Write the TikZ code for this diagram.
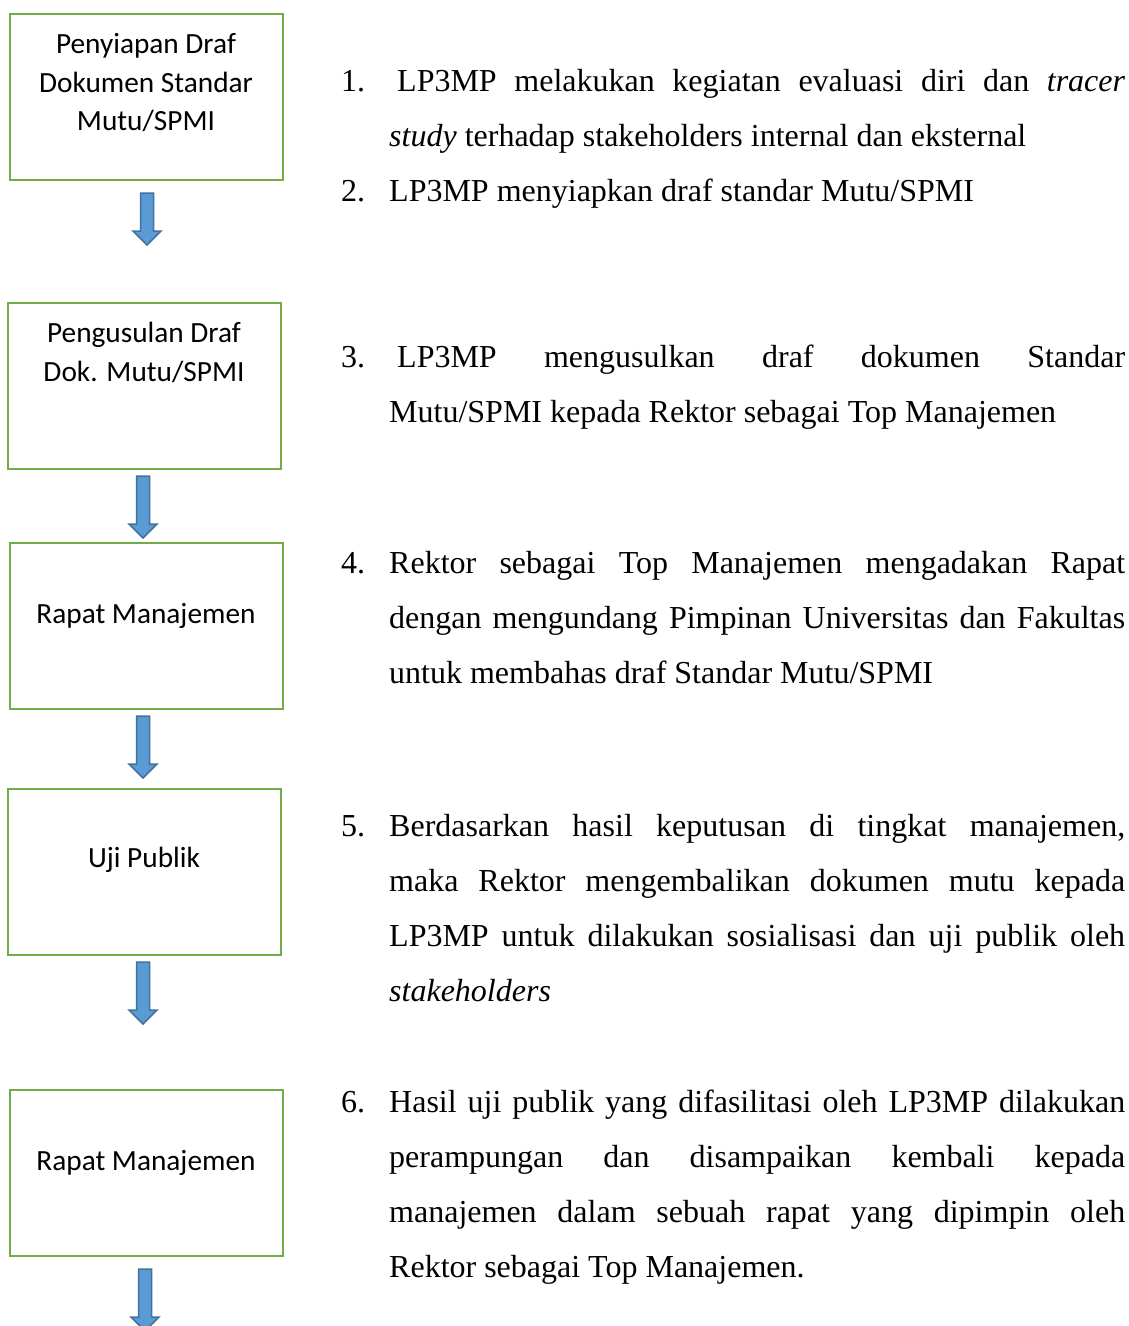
\documentclass[tikz,border=0pt]{standalone}
\usepackage{fontspec}
\setmainfont{Liberation Serif}
\newfontfamily\boxfont{Carlito}
\usetikzlibrary{calc}
\definecolor{boxgreen}{HTML}{70AD47}
\definecolor{arrowfill}{HTML}{5B9BD5}
\definecolor{arrowline}{HTML}{41719C}
\newcommand\ctrlines[1]{\vtop{\halign{\hfil##\hfil\cr#1\crcr}}}
\newcommand\numline[2]{\hbox{\hbox to 48pt{#1\hss}\hbox to 736pt{#2}}}
\newcommand\fullline[1]{\hbox{\hskip48pt\hbox to 736pt{#1}}}
\newcommand\lastline[1]{\hbox{\hskip48pt #1}}
\newcommand\blockarrow[2]{%
  \draw[barrow] ($(#1)+(-6.5,0)$) -- ($(#2)+(-6.5,-14)$) -- ($(#2)+(-14,-14)$) -- (#2)
    -- ($(#2)+(14,-14)$) -- ($(#2)+(6.5,-14)$) -- ($(#1)+(6.5,0)$) -- cycle;}
\begin{document}
\begin{tikzpicture}[x=1pt,y=-1pt,
  stepbox/.style={draw=boxgreen, line width=2.2pt, inner sep=0pt, outer sep=0pt, anchor=north west,
    minimum width=273pt, minimum height=166pt},
  boxtext/.style={font=\boxfont\fontsize{29.3}{38.5}\selectfont, anchor=base, inner sep=0pt},
  itemtext/.style={font=\fontsize{32}{55}\selectfont, anchor=base west, inner sep=0pt},
  barrow/.style={fill=arrowfill, draw=arrowline, line width=1.5pt, line join=miter}]
\useasboundingbox (0,0) rectangle (1128,1326);
\fill[white] (0,0) rectangle (1128,1326);

% boxes
\node[stepbox] (b1) at (10,14) {};
\node[stepbox] (b2) at (8,303) {};
\node[stepbox] (b3) at (10,543) {};
\node[stepbox] (b4) at (8,789) {};
\node[stepbox] (b5) at (10,1090) {};

% box texts
\node[boxtext] (l1) at (146,53.5) {\ctrlines{Penyiapan Draf\cr Dokumen Standar\cr Mutu/SPMI}};
\node[boxtext] (l2) at (144,342.5) {\ctrlines{Pengusulan Draf\cr Dok. Mutu/SPMI}};
\node[boxtext] (l3) at (146,623) {Rapat Manajemen};
\node[boxtext] (l4) at (144,867) {Uji Publik};
\node[boxtext] (l5) at (146,1170) {Rapat Manajemen};

% arrows
\coordinate (a1s) at (147,193);  \coordinate (a1e) at (147,245);
\coordinate (a2s) at (143,476);  \coordinate (a2e) at (143,538);
\coordinate (a3s) at (143,716);  \coordinate (a3e) at (143,778);
\coordinate (a4s) at (143,962);  \coordinate (a4e) at (143,1024);
\coordinate (a5s) at (145,1269); \coordinate (a5e) at (145,1331);
\blockarrow{a1s}{a1e}
\blockarrow{a2s}{a2e}
\blockarrow{a3s}{a3e}
\blockarrow{a4s}{a4e}
\blockarrow{a5s}{a5e}

% descriptions
\node[itemtext] (t1) at (341,91) {\vtop{%
  \numline{1.}{\hskip8pt LP3MP melakukan kegiatan evaluasi diri dan \textit{tracer}}
  \lastline{\textit{study} terhadap stakeholders internal dan eksternal}}};
\node[itemtext] (t2) at (341,201) {\vtop{%
  \hbox{\hbox to 48pt{2.\hss}LP3MP menyiapkan draf standar Mutu/SPMI}}};
\node[itemtext] (t3) at (341,367) {\vtop{%
  \numline{3.}{\hskip8pt LP3MP mengusulkan draf dokumen Standar}
  \lastline{Mutu/SPMI kepada Rektor sebagai Top Manajemen}}};
\node[itemtext] (t4) at (341,573) {\vtop{%
  \numline{4.}{Rektor sebagai Top Manajemen mengadakan Rapat}
  \fullline{dengan mengundang Pimpinan Universitas dan Fakultas}
  \lastline{untuk membahas draf Standar Mutu/SPMI}}};
\node[itemtext] (t5) at (341,836) {\vtop{%
  \numline{5.}{Berdasarkan hasil keputusan di tingkat manajemen,}
  \fullline{maka Rektor mengembalikan dokumen mutu kepada}
  \fullline{LP3MP untuk dilakukan sosialisasi dan uji publik oleh}
  \lastline{\textit{stakeholders}}}};
\node[itemtext] (t6) at (341,1112) {\vtop{%
  \numline{6.}{Hasil uji publik yang difasilitasi oleh LP3MP dilakukan}
  \fullline{perampungan dan disampaikan kembali kepada}
  \fullline{manajemen dalam sebuah rapat yang dipimpin oleh}
  \lastline{Rektor sebagai Top Manajemen.}}};
\end{tikzpicture}
\end{document}
